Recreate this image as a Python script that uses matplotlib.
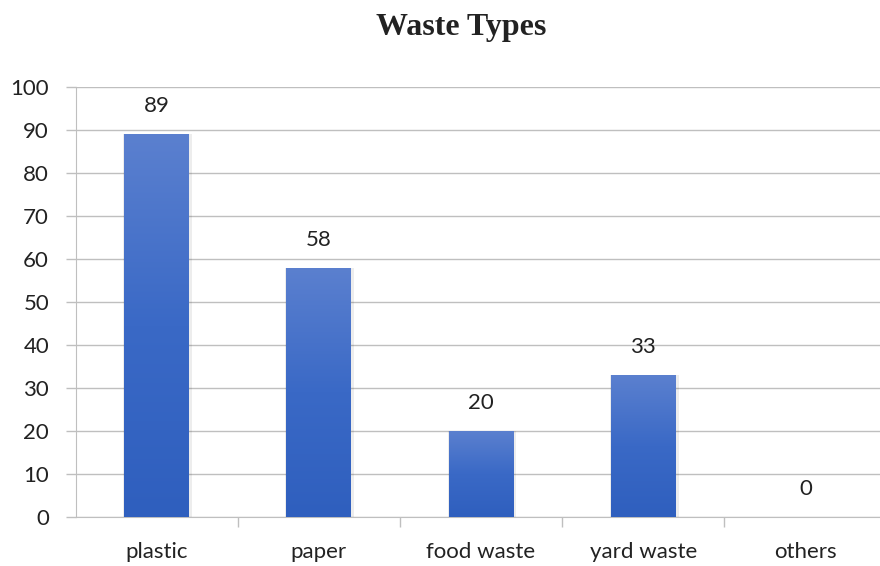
import matplotlib.pyplot as plt
import numpy as np
from matplotlib.colors import LinearSegmentedColormap

# data
categories = ["plastic", "paper", "food waste", "yard waste", "others"]
values = [89, 58, 20, 33, 0]
y_ticks = [0, 10, 20, 30, 40, 50, 60, 70, 80, 90, 100]

grid_col = "#bfbfbf"
label_font = ["Lato", "DejaVu Sans"]

fig = plt.figure(figsize=(8.8, 5.66), dpi=100)
ax = fig.add_axes([75.5 / 880, 49 / 566, 811 / 880, 430 / 566])

x = np.arange(len(categories))
bar_w = 0.4

# gradient bars (light top -> darker bottom)
cmap = LinearSegmentedColormap.from_list("bar", ["#2f5fbe", "#3a69c6", "#5b80cf"])
grad = np.linspace(0, 1, 256).reshape(-1, 1)
bars = ax.bar(x, values, width=bar_w, color="#3a69c6", zorder=2)
for b, v in zip(bars, values):
    if v <= 0:
        continue
    # soft shadow
    ax.bar(b.get_x() + b.get_width() / 2 + 0.006, v, width=bar_w + 0.025,
           color="#000000", alpha=0.07, zorder=1.5)
    im = ax.imshow(grad, cmap=cmap, aspect="auto", origin="lower",
                   extent=[b.get_x(), b.get_x() + b.get_width(), 0, v], zorder=3)
    im.set_clip_path(b)
    b.set_facecolor("none")

# value labels
for xi, v in zip(x, values):
    ax.annotate(str(v), (xi, v), xytext=(0, 13), textcoords="offset points",
                ha="center", va="bottom", fontsize=16, family=label_font, color="#222222")

ax.set_xlim(-0.5, len(categories) - 0.5)
ax.set_ylim(0, 100)
ax.set_yticks(y_ticks)
ax.grid(axis="y", color=grid_col, linewidth=1, zorder=0)
ax.set_axisbelow(True)

ax.set_xticks(x)
ax.set_xticklabels(categories, family=label_font, fontsize=16, color="#222222")
ax.set_xticks(np.arange(len(categories) - 1) + 0.5, minor=True)
ax.tick_params(axis="x", which="major", length=0, pad=18)
ax.tick_params(axis="x", which="minor", length=7, color=grid_col, width=1, direction="out")
ax.tick_params(axis="y", length=7, color=grid_col, width=1, pad=12, labelsize=16, labelcolor="#222222")
for lab in ax.get_yticklabels():
    lab.set_family(label_font)

for s in ["top", "right"]:
    ax.spines[s].set_visible(False)
ax.spines["left"].set_color(grid_col)
ax.spines["bottom"].set_color(grid_col)

fig.text(461 / 880, 1 - 28 / 566, "Waste Types", ha="center", va="center",
         fontsize=23, fontweight="bold", family="Liberation Serif", color="#222222")

fig.savefig("out.png", dpi=100)
